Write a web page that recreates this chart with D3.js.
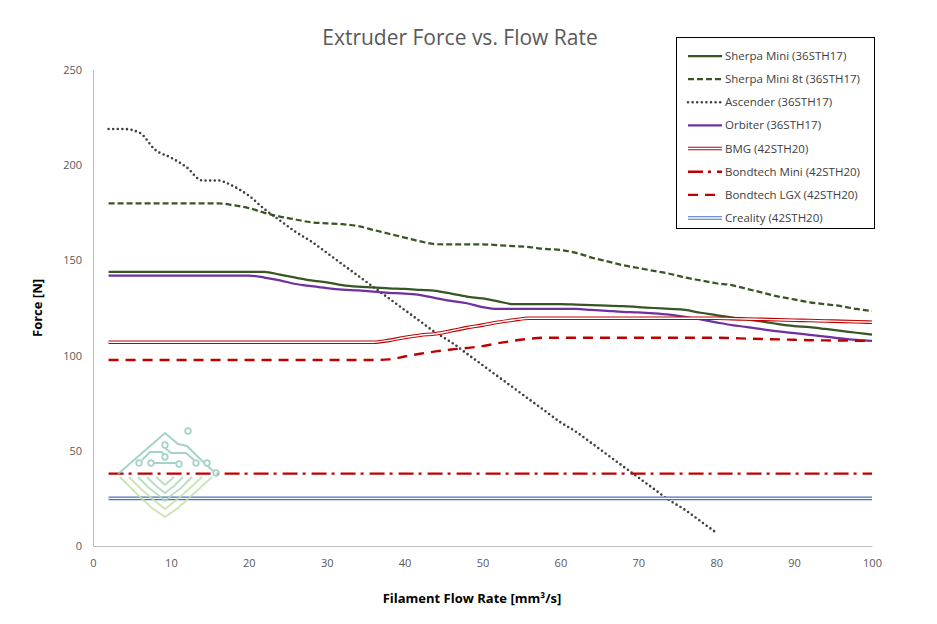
<!DOCTYPE html>
<html>
<head>
<meta charset="utf-8">
<script src="https://cdn.jsdelivr.net/npm/d3@7"></script>
<style>
  body { margin: 0; background: #fff; }
  text { font-family: "Open Sans", "Noto Sans", sans-serif; }
</style>
</head>
<body>
<script>
// data
let flowRate = [2, 4, 6, 8, 10, 12, 14, 16, 18, 20, 22, 24, 26, 28, 30, 32, 34, 36, 38, 40,
    42, 44, 46, 48, 50, 52, 54, 56, 58, 60, 62, 64, 66, 68, 70, 72, 74, 76, 78, 80,
    82, 84, 86, 88, 90, 92, 94, 96, 98, 100]

let sherpaMini = [144, 144, 144, 144, 144, 144, 144, 144, 144, 144, 144, 142.5, 141, 139.5, 138.5, 137, 136.2, 135.8, 135.3, 135,
    134.5, 134, 132.5, 131, 130, 128.5, 127, 127, 127, 127, 126.8, 126.5, 126.3, 126, 125.5, 125, 124.5, 124, 122.5, 121.3,
    120, 119, 117.8, 116.5, 115.5, 115, 114, 113, 112, 111]

let sherpaMini8t = [180, 180, 180, 180, 180, 180, 180, 180, 179, 177.5, 175, 173, 171.5, 170, 169.5, 169, 168, 166, 164, 162,
    160, 158.5, 158.4, 158.4, 158.4, 158, 157.5, 157, 156, 155.5, 154, 151.5, 149.5, 147.5, 146, 144.5, 143, 141, 139.5, 138,
    137, 135, 133, 131, 129.5, 128, 127, 126, 124.5, 123.5]

let ascender = [219, 219, 217, 208, 204, 199, 192, 192, 189, 184, 177, 171, 165, 160, 154, 148, 142, 136, 130, 124,
    118, 112, 107, 101, 95, 89, 83, 77, 71, 65, 60, 54, 48, 42, 36, 30, 24, 19, 13, 7,
    null, null, null, null, null, null, null, null, null, null]

let orbiter = [142, 142, 142, 142, 142, 142, 142, 142, 142, 142, 141, 139.5, 137.6, 136.5, 135.5, 134.7, 134.2, 133.6, 133, 132.5,
    131.8, 130.2, 128.7, 127.5, 125.5, 124.5, 124.5, 124.5, 124.5, 124.5, 124.5, 124, 123.5, 123, 122.7, 122.2, 121.5, 120.4, 119, 117.5,
    116, 115, 113.8, 112.7, 111.8, 110.9, 110, 109, 108.2, 107.7]

let bmg = [107, 107, 107, 107, 107, 107, 107, 107, 107, 107, 107, 107, 107, 107, 107, 107, 107, 107, 108, 109.5,
    110.7, 111.5, 113, 114.7, 116, 117.5, 118.7, 119.6, 119.6, 119.6, 119.6, 119.6, 119.6, 119.6, 119.6, 119.6, 119.6, 119.6, 119.6, 119.6,
    119.4, 119.2, 119, 118.8, 118.6, 118.4, 118.2, 118, 117.8, 117.5]

let bondtechMini = [38, 38, 38, 38, 38, 38, 38, 38, 38, 38, 38, 38, 38, 38, 38, 38, 38, 38, 38, 38,
    38, 38, 38, 38, 38, 38, 38, 38, 38, 38, 38, 38, 38, 38, 38, 38, 38, 38, 38, 38,
    38, 38, 38, 38, 38, 38, 38, 38, 38, 38]

let bondtechLGX = [97.7, 97.7, 97.7, 97.7, 97.7, 97.7, 97.7, 97.7, 97.7, 97.7, 97.7, 97.7, 97.7, 97.7, 97.7, 97.7, 97.7, 97.7, 98, 99.5,
    101, 102.2, 103.2, 104, 105, 106.5, 107.8, 108.8, 109.4, 109.4, 109.4, 109.4, 109.4, 109.4, 109.4, 109.4, 109.4, 109.4, 109.4, 109.4,
    109.2, 108.9, 108.7, 108.5, 108.3, 108.1, 108, 107.9, 107.8, 107.7]

let creality = [25, 25, 25, 25, 25, 25, 25, 25, 25, 25, 25, 25, 25, 25, 25, 25, 25, 25, 25, 25,
    25, 25, 25, 25, 25, 25, 25, 25, 25, 25, 25, 25, 25, 25, 25, 25, 25, 25, 25, 25,
    25, 25, 25, 25, 25, 25, 25, 25, 25, 25]

let seriesNames = ["Sherpa Mini (36STH17)", "Sherpa Mini 8t (36STH17)", "Ascender (36STH17)", "Orbiter (36STH17)",
    "BMG (42STH20)", "Bondtech Mini (42STH20)", "Bondtech LGX (42STH20)", "Creality (42STH20)"]
let seriesValues = [sherpaMini, sherpaMini8t, ascender, orbiter, bmg, bondtechMini, bondtechLGX, creality]

let xTicks = [0, 10, 20, 30, 40, 50, 60, 70, 80, 90, 100]
let yTicks = [0, 50, 100, 150, 200, 250]

// line styles per series
let styles = [
    { color: "#375623", width: 2.25, dash: null },
    { color: "#375623", width: 2.25, dash: "6,3" },
    { color: "#404040", width: 2.6, dash: "0,4.6", cap: "round" },
    { color: "#7030a0", width: 2.25, dash: null },
    { color: "#c00000", width: 3.6, dash: null, double: true },
    { color: "#c00000", width: 2.4, dash: "15,5,3,6" },
    { color: "#c00000", width: 2.4, dash: "10,7" },
    { color: "#4472c4", width: 3.6, dash: null, double: true }
]

// setup canvas
let width = 937
let height = 624
let plotLeft = 93, plotRight = 872, plotTop = 70, plotBottom = 546

let svg = d3.select("body").append("svg")
    .attr("width", width)
    .attr("height", height)

let x = d3.scaleLinear().domain([0, 100]).range([plotLeft, plotRight])
let y = d3.scaleLinear().domain([0, 250]).range([plotBottom, plotTop])

// title
svg.append("text")
    .attr("x", 460)
    .attr("y", 45)
    .attr("text-anchor", "middle")
    .attr("fill", "#595959")
    .attr("font-size", 21)
    .text("Extruder Force vs. Flow Rate")

// axes
let xAxis = svg.append("g")
    .attr("transform", `translate(0,${plotBottom})`)
    .call(d3.axisBottom(x).tickValues(xTicks).tickSize(0).tickPadding(13))
let yAxis = svg.append("g")
    .attr("transform", `translate(${plotLeft},0)`)
    .call(d3.axisLeft(y).tickValues(yTicks).tickSize(0).tickPadding(11))

for (let a of [xAxis, yAxis]) {
    a.select(".domain").attr("stroke", "#bfbfbf").attr("stroke-width", 1)
    a.selectAll("text")
        .attr("fill", "#595959")
        .attr("font-size", 11)
        .style("font-family", "'Open Sans', sans-serif")
}

// axis titles
svg.append("text")
    .attr("x", 472)
    .attr("y", 603)
    .attr("text-anchor", "middle")
    .attr("font-weight", "bold")
    .attr("font-size", 13)
    .attr("fill", "#000")
    .text("Filament Flow Rate [mm³/s]")

svg.append("text")
    .attr("transform", "translate(42,308) rotate(-90)")
    .attr("text-anchor", "middle")
    .attr("font-weight", "bold")
    .attr("font-size", 13)
    .attr("fill", "#000")
    .text("Force [N]")

// lines
let line = d3.line()
    .defined(d => d.v != null)
    .x(d => x(d.f))
    .y(d => y(d.v))
    .curve(d3.curveMonotoneX)

let lines = svg.append("g").attr("class", "lines")

seriesValues.forEach((vals, i) => {
    let pts = flowRate.map((f, j) => ({ f: f, v: vals[j] }))
    let s = styles[i]
    lines.append("path")
        .datum(pts)
        .attr("d", line)
        .attr("fill", "none")
        .attr("stroke", s.color)
        .attr("stroke-width", s.width)
        .attr("stroke-dasharray", s.dash)
        .attr("stroke-linecap", s.cap || "butt")
        .attr("stroke-linejoin", "round")
    if (s.double) {
        lines.append("path")
            .datum(pts)
            .attr("d", line)
            .attr("fill", "none")
            .attr("stroke", "#fff")
            .attr("stroke-width", 1.4)
    }
})

// watermark logo
let logo = svg.append("g").attr("opacity", 0.8)
let teal = "#8fc8bf", green = "#bfe2a9"
logo.append("path")
    .attr("d", "M118,474 L165,433 L178,444 L187,446 L196,455 L213,471")
    .attr("fill", "none").attr("stroke", teal).attr("stroke-width", 2)
logo.append("path")
    .attr("d", "M165,448 L171,453 L186,453 L194,460 M154,463 L176,463 M142,460 L150,452 L162,452 L165,457")
    .attr("fill", "none").attr("stroke", teal).attr("stroke-width", 2)
let dots = [[188, 431], [165, 445], [165, 457], [139, 463], [151, 463], [179, 464], [196, 463], [207, 463], [216, 473]]
logo.selectAll("circle.logo")
    .data(dots)
    .enter()
    .append("circle")
    .attr("cx", d => d[0])
    .attr("cy", d => d[1])
    .attr("r", 2.8)
    .attr("fill", "#fff")
    .attr("stroke", teal)
    .attr("stroke-width", 1.8)
let chevrons = [
    "M120,477 L131,488 L140,497 L152,508 L165,517 L178,508 L190,497 L200,488 L212,477",
    "M129,477 L140,488 L150,497 L165,509 L180,497 L190,488 L202,477",
    "M138,477 L149,488 L157,494 L165,501 L173,494 L181,488 L192,477",
    "M147,477 L156,486 L165,493 L174,486 L183,477",
    "M156,477 L165,485 L174,477"
]
logo.selectAll("path.chev")
    .data(chevrons)
    .enter()
    .append("path")
    .attr("d", d => d)
    .attr("fill", "none")
    .attr("stroke", (d, i) => i < 2 ? green : "#a9d9b5")
    .attr("stroke-width", 2)

// legend
let legend = svg.append("g")
legend.append("rect")
    .attr("x", 676.5).attr("y", 37.5)
    .attr("width", 198).attr("height", 191)
    .attr("fill", "#fff")
    .attr("stroke", "#000")
    .attr("stroke-width", 1)

let rowY = d3.scaleLinear().domain([0, 7]).range([56, 218])

seriesNames.forEach((name, i) => {
    let s = styles[i]
    let yy = rowY(i)
    legend.append("line")
        .attr("x1", 688).attr("x2", 722)
        .attr("y1", yy).attr("y2", yy)
        .attr("stroke", s.color)
        .attr("stroke-width", s.width)
        .attr("stroke-dasharray", s.dash)
        .attr("stroke-linecap", s.cap || "butt")
    if (s.double) {
        legend.append("line")
            .attr("x1", 688).attr("x2", 722)
            .attr("y1", yy).attr("y2", yy)
            .attr("stroke", "#fff")
            .attr("stroke-width", 1.4)
    }
    legend.append("text")
        .attr("x", 725)
        .attr("y", yy + 4)
        .attr("font-size", 11.5)
        .attr("fill", "#404040")
        .text(name)
})
</script>
</body>
</html>
